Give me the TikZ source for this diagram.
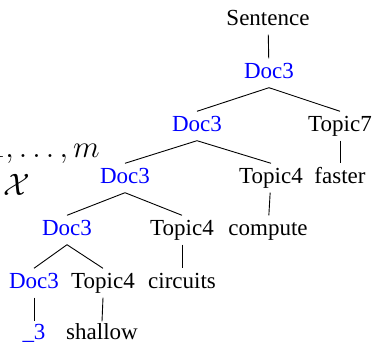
\RequirePackage{fix-cm}
\documentclass[tikz,border=0pt]{standalone}
\usepackage{fontspec}
\setmainfont{Liberation Serif}
\begin{document}
\begin{tikzpicture}[x=1pt,y=-1pt,
  lbl/.style={font=\fontsize{23}{28}\selectfont, inner xsep=0pt, inner ysep=4pt,
              text height=16pt, text depth=5pt},
  doc/.style={lbl, text=blue},
  word/.style={lbl},
  link/.style={draw=black, line width=0.9pt},
  mathlbl/.style={font=\fontsize{31}{36}\selectfont, inner sep=0pt}]
\useasboundingbox (0,0) rectangle (375,344);
\clip (0,0) rectangle (375,344);

% tree nodes
\node[word] (s)  at (268,20)  {Sentence};
\node[doc]  (d1) at (269,73)  {Doc3};
\node[doc]  (d2) at (197,126) {Doc3};
\node[word] (t7) at (340,126) {Topic7};
\node[word] (w7) at (340,178) {faster};
\node[doc]  (d3) at (125,178) {Doc3};
\node[word] (t4a) at (271,178) {Topic4};
\node[word] (wa) at (268,230) {compute};
\node[doc]  (d4) at (67,230)  {Doc3};
\node[word] (t4b) at (182,230) {Topic4};
\node[word] (wb) at (182,283) {circuits};
\node[doc]  (d5) at (34,283)  {Doc3};
\node[word] (t4c) at (103,283) {Topic4};
\node[doc, text depth=3pt, inner ysep=2pt] (w5) at (34,333)  {\_3};
\node[word, text depth=3pt, inner ysep=2pt] (wc) at (102,333) {shallow};

% branches
\path[link] (s) -- (d1);
\path[link] (d1.south) -- (d2.north);
\path[link] (d1.south) -- (t7.north);
\path[link] (t7) -- (w7);
\path[link] (d2.south) -- (d3.north);
\path[link] (d2.south) -- (t4a.north);
\path[link] (t4a) -- (wa);
\path[link] (d3.south) -- (d4.north);
\path[link] (d3.south) -- (t4b.north);
\path[link] (t4b) -- (wb);
\path[link] (d4.south) -- (d5.north);
\path[link] (d4.south) -- (t4c.north);
\path[link] (d5.south) -- (w5.north);
\path[link] (t4c.south) -- (wc.north);

% index set on the left
\node[mathlbl, anchor=base east] (idx) at (100,158) {$1,\ldots,m$};
\node[mathlbl, anchor=base west] (cx) at (3,196) {$\mathcal{X}$};
\end{tikzpicture}
\end{document}
